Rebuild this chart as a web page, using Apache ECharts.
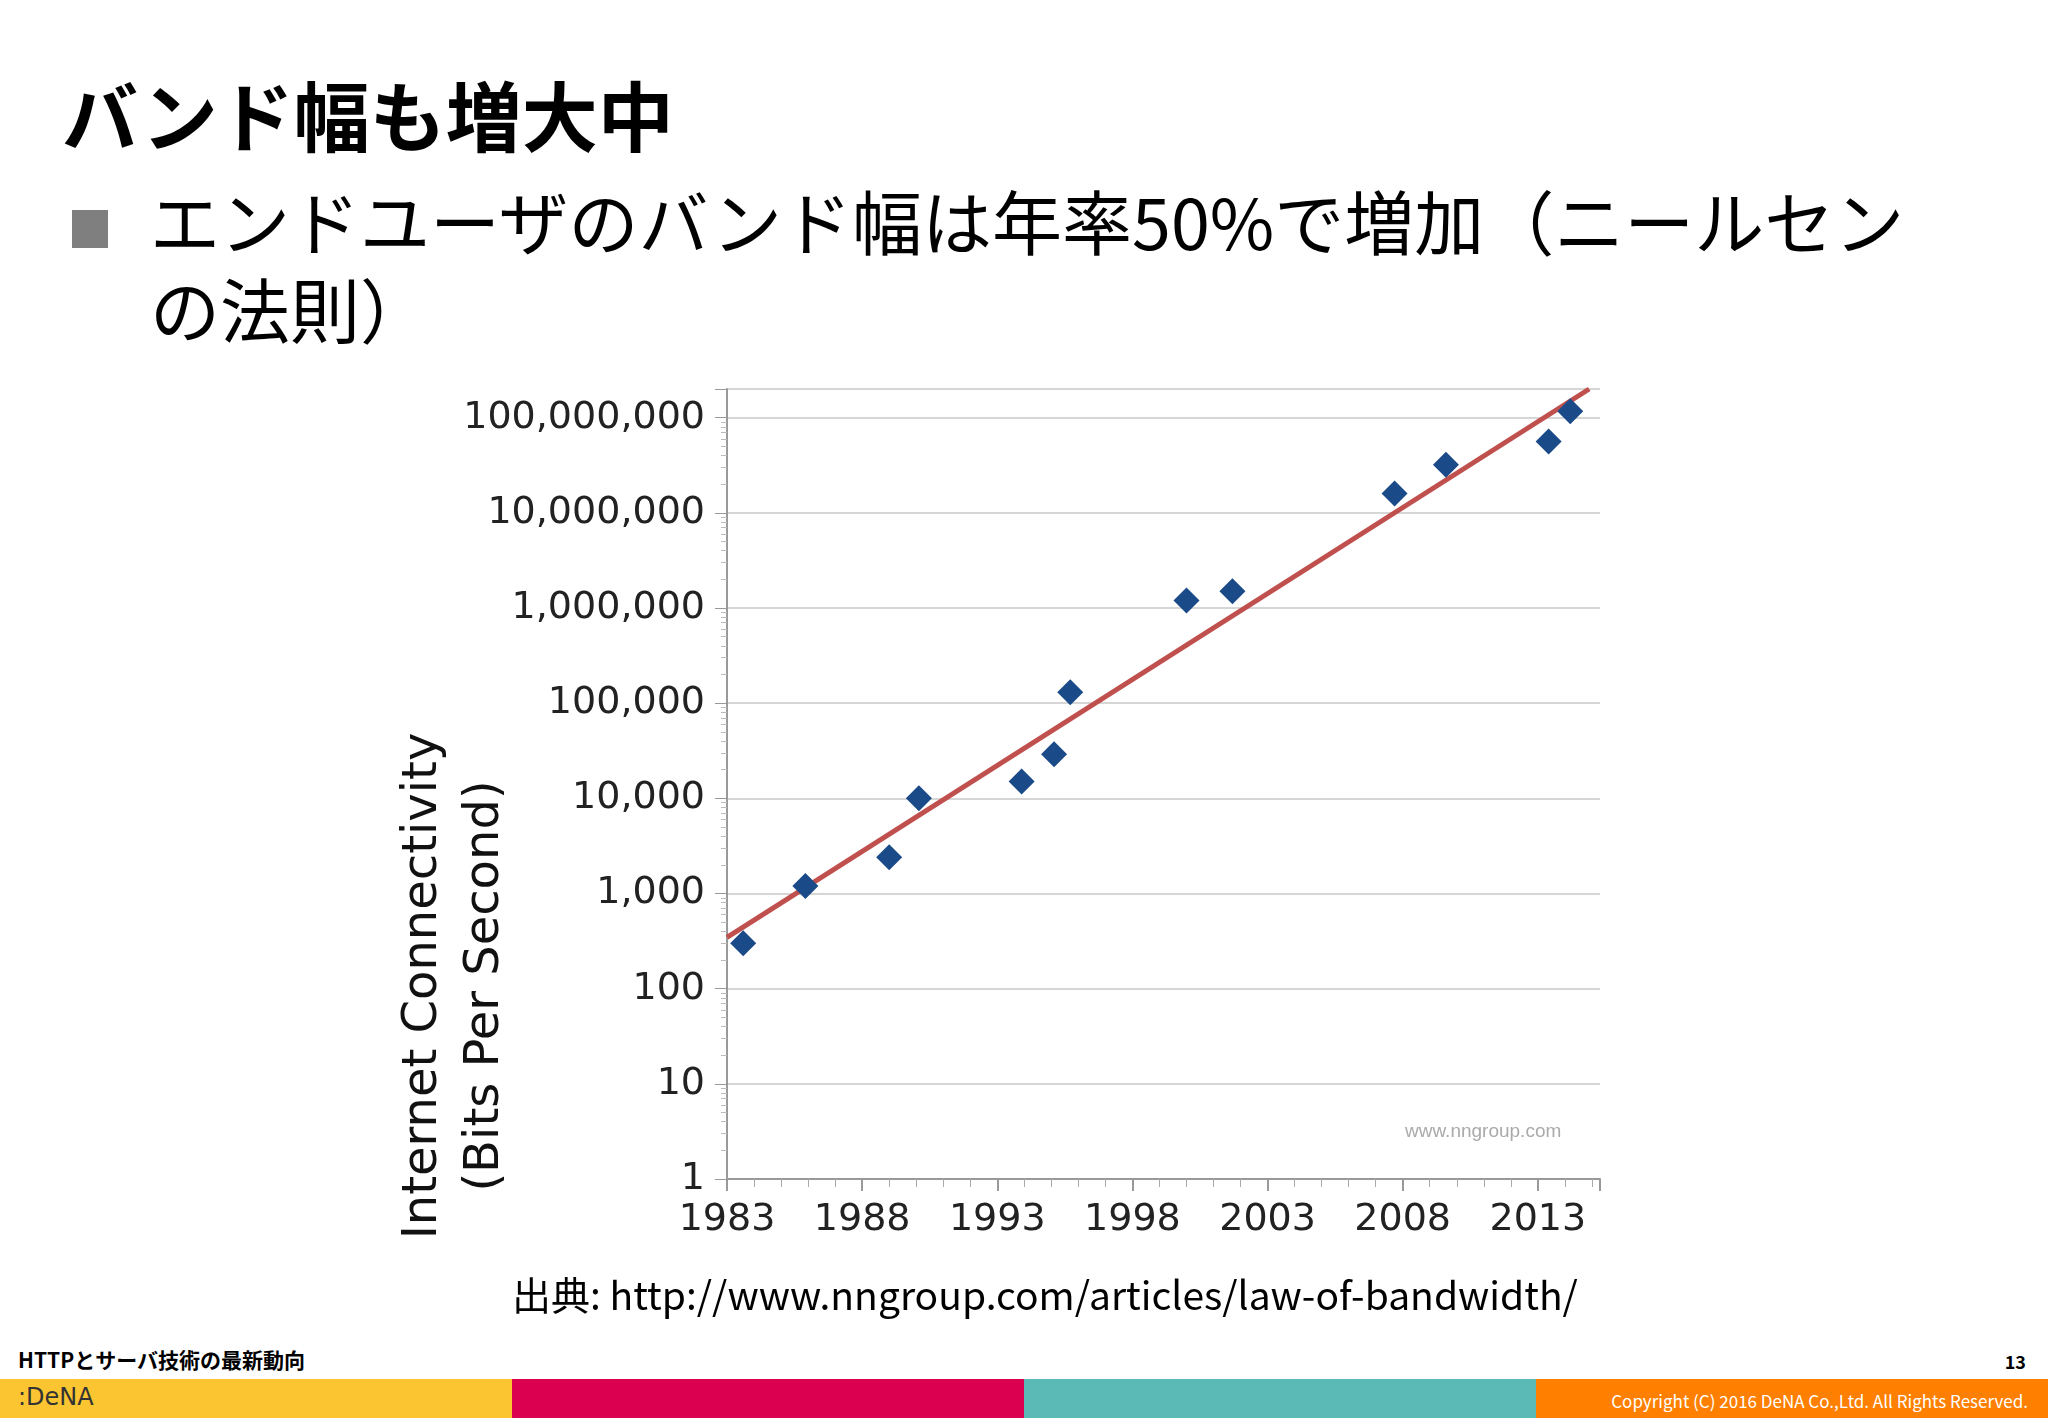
<!DOCTYPE html>
<html>
<head>
<meta charset="utf-8">
<script src="https://cdn.jsdelivr.net/npm/echarts@6/dist/echarts.min.js"></script>
<style>
  body { margin:0; width:2048px; height:1418px; position:relative; background:#fff; overflow:hidden;
         font-family:"Noto Sans CJK JP","Noto Sans",sans-serif; }
  .abs { position:absolute; white-space:nowrap; }
  #title { left:62px; top:58px; font-size:76px; font-weight:bold; color:#000; }
  #bullet { left:72px; top:210px; width:36px; height:38px; background:#7f7f7f; }
  #body { left:150px; top:176px; font-size:70px; line-height:88px; color:#000; }
  #src { left:512px; top:1265px; font-size:39px; color:#000; }
  #foot { left:18px; top:1344px; font-size:21px; font-weight:bold; }
  #page { right:22px; top:1348px; font-size:18px; font-weight:bold; }
  .bar { position:absolute; top:1379px; height:39px; width:512px; }
  #chart { position:absolute; left:300px; top:370px; width:1340px; height:920px; }
</style>
</head>
<body>
<div class="abs" id="title">バンド幅も増大中</div>
<div class="abs" id="bullet"></div>
<div class="abs" id="body">エンドユーザのバンド幅は年率50%で増加（ニールセン<br>の法則）</div>
<div id="chart"></div>
<div class="abs" id="src">出典: http://www.nngroup.com/articles/law-of-bandwidth/</div>
<div class="abs" id="foot">HTTPとサーバ技術の最新動向</div>
<div class="abs" id="page">13</div>
<div class="bar" style="left:0;background:#fbc531"><span style="position:absolute;left:18px;top:4px;font-size:24px;color:#333;font-family:'DejaVu Sans'">:DeNA</span></div>
<div class="bar" style="left:512px;background:#dc0050"></div>
<div class="bar" style="left:1024px;background:#5cbab6"></div>
<div class="bar" style="left:1536px;background:#ff7f00"><span style="position:absolute;right:20px;top:9px;font-size:17px;color:#fff">Copyright (C) 2016 DeNA Co.,Ltd. All Rights Reserved.</span></div>
<script>
var years = [1983.6, 1985.9, 1989, 1990.1, 1993.9, 1995.1, 1995.7, 2000, 2001.7, 2007.7, 2009.6, 2013.4, 2014.2];
var bps = [300, 1200, 2400, 10000, 15000, 29000, 130000, 1200000, 1500000, 16000000, 32000000, 56000000, 117000000];
var trendYears = [1983, 2014.9];
var trendBps = [345, 200000000];

var chart = echarts.init(document.getElementById('chart'));
chart.setOption({
  animation: false,
  grid: { left: 427, top: 19, width: 873, height: 790, outerBoundsMode: 'none', containLabel: false },
  xAxis: {
    type: 'value', min: 1983, max: 2015.3, interval: 5,
    axisLine: { lineStyle: { color: '#999', width: 2 } },
    axisTick: { length: 12, lineStyle: { color: '#999', width: 2 } },
    minorTick: { show: true, splitNumber: 5, length: 8, lineStyle: { color: '#aaa' } },
    splitLine: { show: false },
    axisLabel: { fontSize: 38, color: '#222', margin: 22, showMaxLabel: false, fontFamily: 'DejaVu Sans',
      formatter: function (v) { return String(v); } }
  },
  yAxis: {
    type: 'log', logBase: 10, min: 1, max: 200000000,
    axisLine: { show: true, lineStyle: { color: '#999', width: 2 } },
    axisTick: { show: true, length: 12, lineStyle: { color: '#999' } },
    minorTick: { show: true, splitNumber: 9, length: 6, lineStyle: { color: '#bbb' } },
    splitLine: { lineStyle: { color: '#d6d6d6', width: 2 } },
    axisLabel: { fontSize: 38, color: '#222', margin: 22, showMaxLabel: false, fontFamily: 'DejaVu Sans',
      formatter: function (v) { return Math.round(v).toLocaleString('en-US'); } }
  },
  graphic: [
    { type: 'text', x: 155, y: 616, rotation: Math.PI / 2,
      style: { text: 'Internet Connectivity\n(Bits Per Second)', fontSize: 48, lineHeight: 62,
        fill: '#111', fontFamily: 'DejaVu Sans', align: 'center', verticalAlign: 'middle' } },
    { type: 'text', left: 1105, top: 752,
      style: { text: 'www.nngroup.com', fontSize: 19, fill: '#aaa' } }
  ],
  series: [
    { type: 'line', data: trendYears.map(function (y, i) { return [y, trendBps[i]]; }),
      symbol: 'none', lineStyle: { color: '#c0504d', width: 5 }, z: 2 },
    { type: 'scatter', data: years.map(function (y, i) { return [y, bps[i]]; }),
      symbol: 'diamond', symbolSize: 26, itemStyle: { color: '#1a4a88', opacity: 1 }, z: 3 }
  ]
});
</script>
</body>
</html>
